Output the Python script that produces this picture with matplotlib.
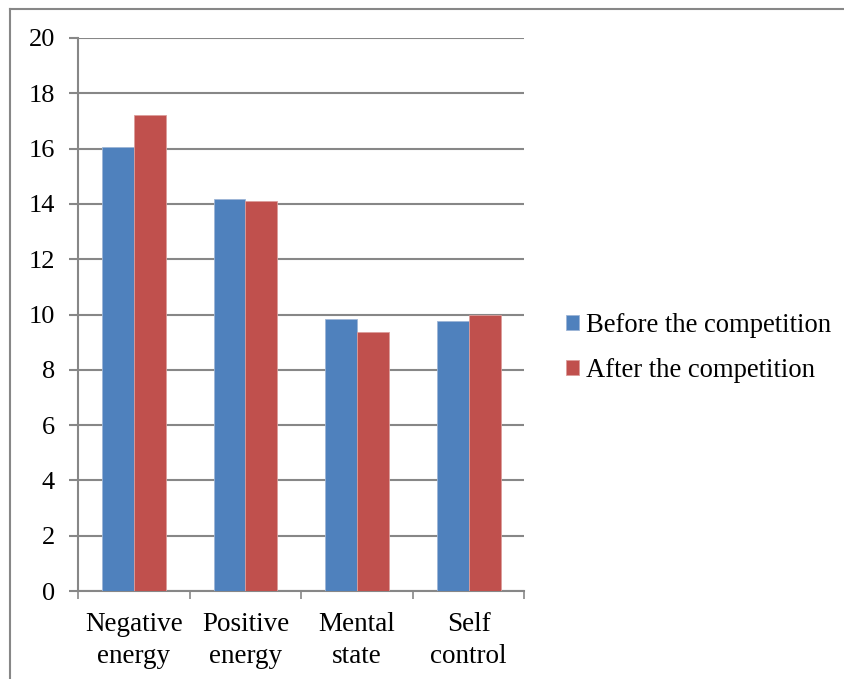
import matplotlib
matplotlib.use("Agg")
import matplotlib.pyplot as plt
import numpy as np
from matplotlib.lines import Line2D

categories = ["Negative\nenergy", "Positive\nenergy", "Mental\nstate", "Self\ncontrol"]
before = [16.06, 14.18, 9.83, 9.78]
after = [17.22, 14.12, 9.37, 9.97]
series_names = ["Before the competition", "After the competition"]
yticks = [0, 2, 4, 6, 8, 10, 12, 14, 16, 18, 20]

BLUE = "#4F81BD"
RED = "#C0504D"
GRID = "#878787"

plt.rcParams["font.family"] = ["Liberation Serif", "DejaVu Serif"]

fig = plt.figure(figsize=(8.45, 6.79), dpi=100)
ax = fig.add_axes([78 / 845, 88 / 679, (524.5 - 78) / 845, (591 - 38) / 679])

x = np.arange(len(categories))
w = 1 / 1.75 / 2
ax.bar(x - w / 2, before, w, color=BLUE, edgecolor="#9db5d6", linewidth=0.6,
       label=series_names[0], zorder=3)
ax.bar(x + w / 2, after, w, color=RED, edgecolor="#dc9d9b", linewidth=0.6,
       label=series_names[1], zorder=3)

ax.set_xlim(-0.5, len(categories) - 0.5)
ax.set_ylim(0, 20)
ax.set_yticks(yticks)
ax.set_yticklabels([str(t) for t in yticks], fontsize=19)
ax.yaxis.grid(True, color=GRID, linewidth=1.5, zorder=0)
ax.set_axisbelow(True)

# category labels centred between boundary ticks
ax.set_xticks(np.arange(len(categories) + 1) - 0.5)
ax.set_xticklabels([])
ax.set_xticks(x, minor=True)
ax.set_xticklabels(categories, minor=True, fontsize=19.5, linespacing=1.38)
ax.tick_params(axis="x", which="minor", length=0, pad=15)
ax.tick_params(axis="x", which="major", length=6, width=1.2, color=GRID)
ax.tick_params(axis="y", length=6.5, width=1.5, color=GRID, pad=10)

for side in ("top", "right"):
    ax.spines[side].set_visible(False)
for side in ("left", "bottom"):
    ax.spines[side].set_color(GRID)
    ax.spines[side].set_linewidth(1.5)

ax.legend(loc="center left", bbox_to_anchor=(566 / 845, 1 - 348 / 679),
          bbox_transform=fig.transFigure, frameon=False, fontsize=19.2,
          handlelength=0.5, handleheight=0.5, handletextpad=0.25,
          labelspacing=0.75, borderpad=0, borderaxespad=0)

# outer frame (top and left edges visible)
fig.add_artist(Line2D([10.5 / 845, 10.5 / 845], [0, 1 - 8.5 / 679],
                      transform=fig.transFigure, color=GRID, linewidth=1.5))
fig.add_artist(Line2D([10.5 / 845, 1], [1 - 8.5 / 679, 1 - 8.5 / 679],
                      transform=fig.transFigure, color=GRID, linewidth=1.5))

fig.savefig("out.png", dpi=100)
